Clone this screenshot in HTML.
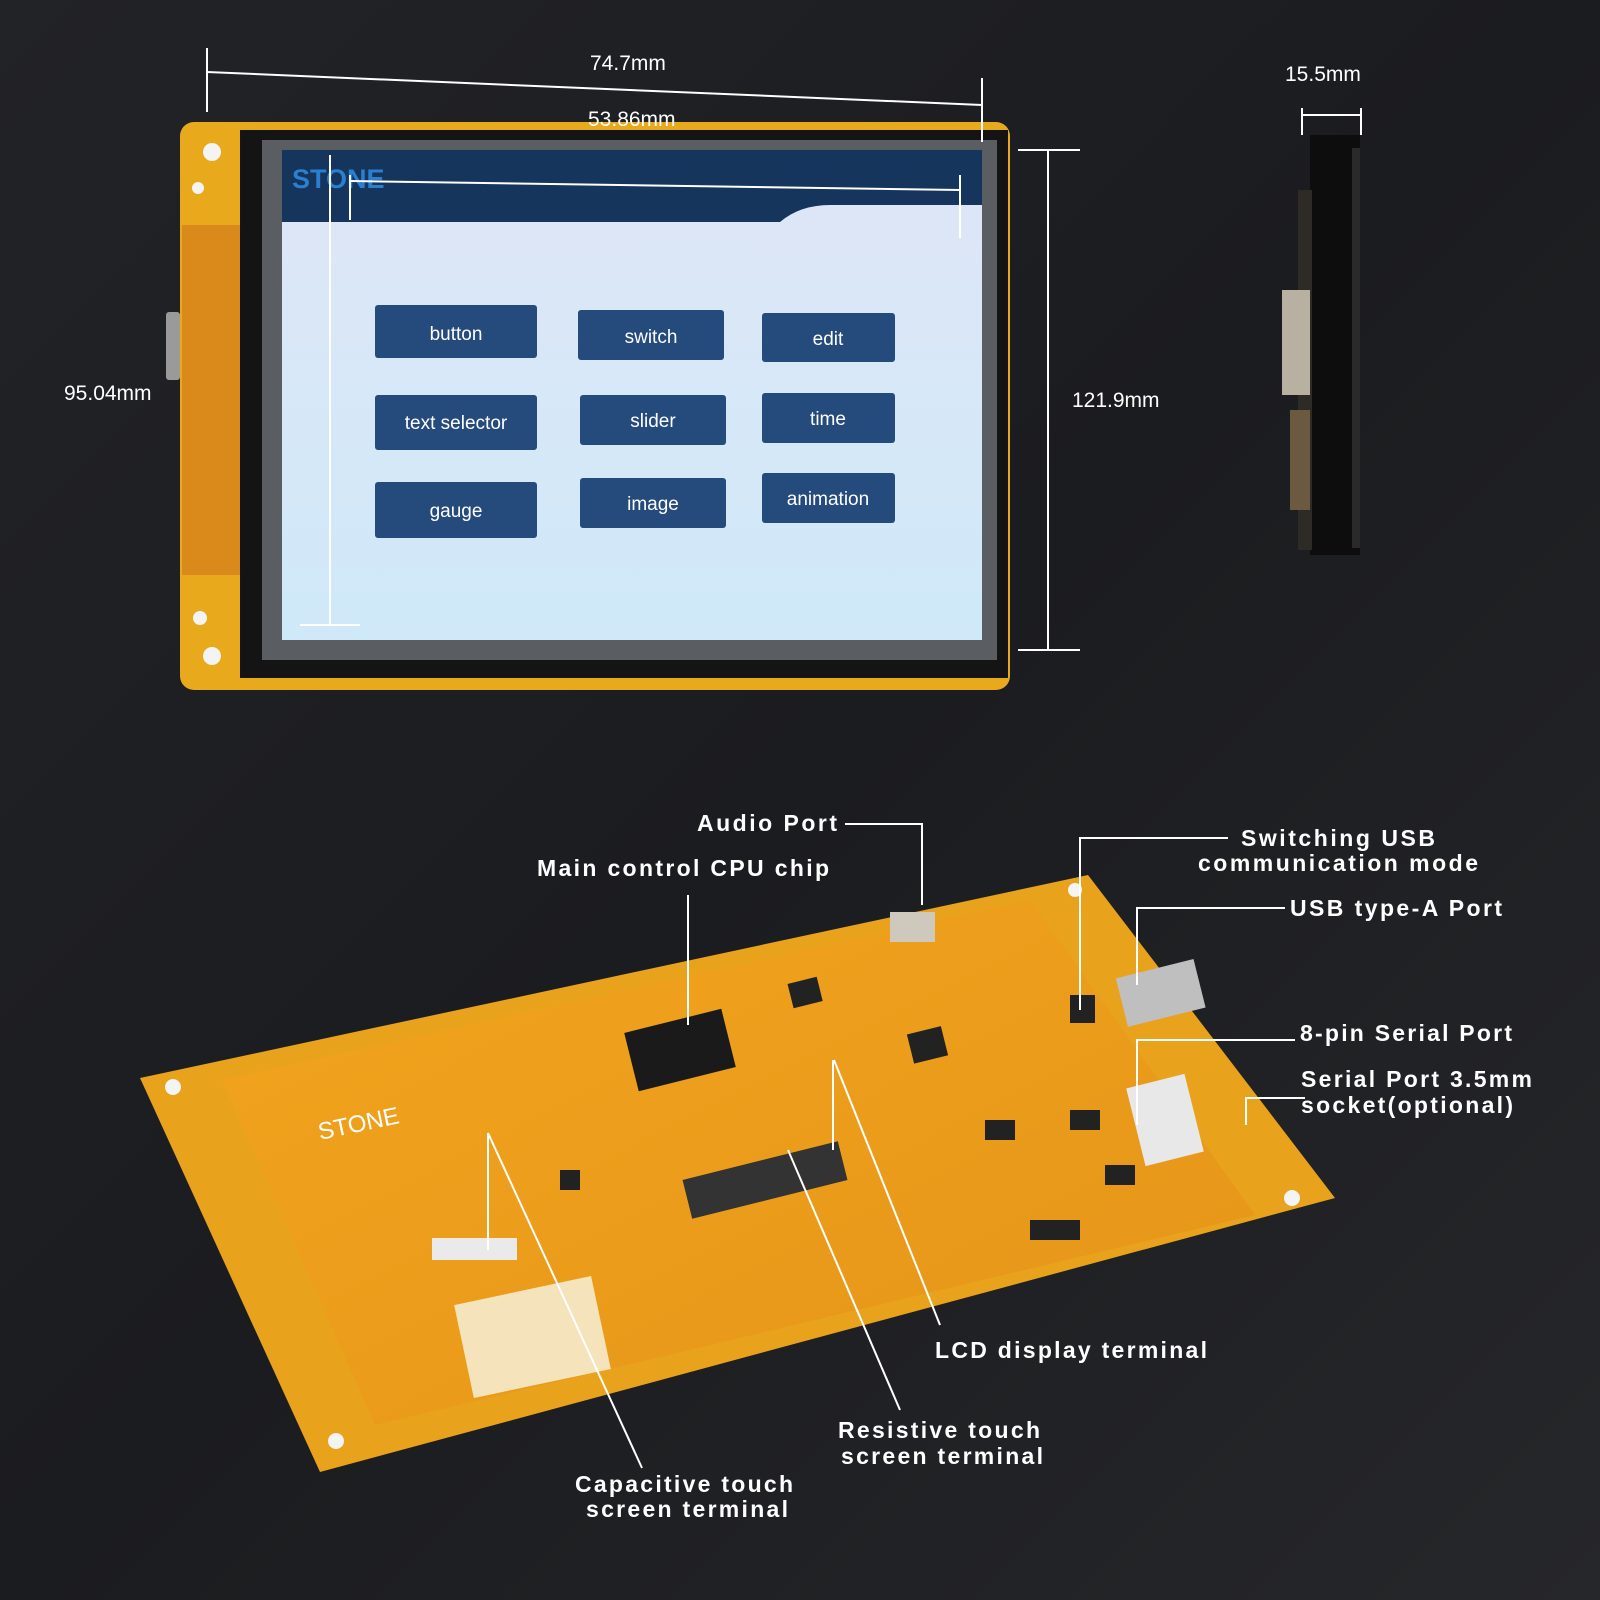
<!DOCTYPE html>
<html><head><meta charset="utf-8"><style>
html,body{margin:0;padding:0;width:1600px;height:1600px;overflow:hidden;background:#1d1e21}
svg{display:block}
text{font-family:"Liberation Sans",sans-serif}
.d{fill:#fff;font-size:21px}
.l{fill:#fff;font-size:23px;font-weight:bold}
.b{fill:#fff;font-size:19px}
</style></head><body>
<svg width="1600" height="1600" viewBox="0 0 1600 1600" xmlns="http://www.w3.org/2000/svg">
<defs>
<linearGradient id="bg" x1="0" y1="0" x2="1" y2="1"><stop offset="0" stop-color="#222327"/><stop offset="0.5" stop-color="#1b1c1f"/><stop offset="1" stop-color="#26272a"/></linearGradient>
<linearGradient id="scr" x1="0" y1="0" x2="0" y2="1"><stop offset="0" stop-color="#dfe6f6"/><stop offset="1" stop-color="#cfe9f9"/></linearGradient>
<linearGradient id="pcb" x1="0" y1="0" x2="1" y2="1"><stop offset="0" stop-color="#f2a51e"/><stop offset="1" stop-color="#e59418"/></linearGradient>
</defs>
<rect width="1600" height="1600" fill="url(#bg)"/>
<rect x="180" y="122" width="830" height="568" rx="14" fill="#e9a91c"/>
<rect x="182" y="225" width="60" height="350" fill="#d98a1a"/>
<rect x="240" y="130" width="768" height="548" fill="#141414"/>
<rect x="262" y="140" width="735" height="520" fill="#5a5e62"/>
<rect x="282" y="150" width="700" height="490" fill="url(#scr)"/>
<path d="M282 150 H982 V205 H830 Q800 205 780 222 H282 Z" fill="#15355c"/>
<text x="292" y="188" fill="#2b7fd0" font-size="27" font-weight="bold">STONE</text>
<g fill="#254a7c">
<rect x="375" y="305" width="162" height="53" rx="3"/><rect x="578" y="310" width="146" height="50" rx="3"/><rect x="762" y="313" width="133" height="49" rx="3"/>
<rect x="375" y="395" width="162" height="55" rx="3"/><rect x="580" y="395" width="146" height="50" rx="3"/><rect x="762" y="393" width="133" height="50" rx="3"/>
<rect x="375" y="482" width="162" height="56" rx="3"/><rect x="580" y="478" width="146" height="50" rx="3"/><rect x="762" y="473" width="133" height="50" rx="3"/>
</g>
<g class="b" text-anchor="middle">
<text x="456" y="340">button</text><text x="651" y="343">switch</text><text x="828" y="345">edit</text>
<text x="456" y="429">text selector</text><text x="653" y="427">slider</text><text x="828" y="425">time</text>
<text x="456" y="517">gauge</text><text x="653" y="510">image</text><text x="828" y="505">animation</text>
</g>
<g fill="#f4f4f4"><circle cx="212" cy="152" r="9"/><circle cx="212" cy="656" r="9"/><circle cx="200" cy="618" r="7"/><circle cx="198" cy="188" r="6"/></g>
<rect x="166" y="312" width="14" height="68" rx="3" fill="#9a9a9a"/>
<g stroke="#fff" stroke-width="2" fill="none">
<line x1="207" y1="72" x2="982" y2="105"/><line x1="207" y1="48" x2="207" y2="112"/><line x1="982" y1="78" x2="982" y2="142"/>
<line x1="350" y1="181" x2="960" y2="190"/><line x1="350" y1="175" x2="350" y2="220"/><line x1="960" y1="175" x2="960" y2="238"/>
<line x1="330" y1="155" x2="330" y2="625"/><line x1="300" y1="625" x2="360" y2="625"/>
<line x1="1048" y1="150" x2="1048" y2="650"/><line x1="1018" y1="150" x2="1080" y2="150"/><line x1="1018" y1="650" x2="1080" y2="650"/>
<line x1="1302" y1="115" x2="1361" y2="115"/><line x1="1302" y1="108" x2="1302" y2="135"/><line x1="1361" y1="108" x2="1361" y2="135"/>
</g>
<g class="d"><text x="590" y="70">74.7mm</text><text x="588" y="126">53.86mm</text><text x="64" y="400">95.04mm</text><text x="1072" y="407">121.9mm</text><text x="1285" y="81">15.5mm</text></g>
<rect x="1310" y="135" width="50" height="420" fill="#0d0d0d"/>
<rect x="1352" y="148" width="8" height="400" fill="#2a2a2a"/>
<rect x="1298" y="190" width="14" height="360" fill="#2e2b26"/>
<rect x="1282" y="290" width="28" height="105" fill="#b8b0a0"/>
<rect x="1290" y="410" width="20" height="100" fill="#6b5a40"/>
<polygon points="140,1078 1088,875 1335,1198 320,1472" fill="#e8a21c"/>
<polygon points="222,1080 1030,900 1255,1215 375,1425" fill="url(#pcb)"/>
<rect x="462" y="1290" width="140" height="95" fill="#f5e3bb" transform="rotate(-12 530 1335)"/>
<rect x="630" y="1020" width="100" height="60" fill="#1a1a1a" transform="rotate(-14 680 1050)"/>
<rect x="685" y="1160" width="160" height="40" fill="#333" transform="rotate(-14 765 1180)"/>
<rect x="1120" y="968" width="80" height="50" fill="#bfbfbf" transform="rotate(-14 1160 990)"/>
<rect x="1135" y="1080" width="60" height="80" fill="#e8e8e8" transform="rotate(-14 1165 1120)"/>
<g fill="#222">
<rect x="790" y="980" width="30" height="25" transform="rotate(-14 805 992)"/>
<rect x="910" y="1030" width="35" height="30" transform="rotate(-14 927 1045)"/>
<rect x="1070" y="1110" width="30" height="20"/><rect x="1105" y="1165" width="30" height="20"/>
<rect x="985" y="1120" width="30" height="20"/><rect x="1030" y="1220" width="50" height="20"/>
<rect x="1070" y="995" width="25" height="28"/><rect x="560" y="1170" width="20" height="20"/>
</g>
<rect x="890" y="912" width="45" height="30" fill="#cfc8bc"/>
<rect x="432" y="1238" width="85" height="22" fill="#eaeaea"/>
<text x="320" y="1140" fill="#fff" font-size="24" transform="rotate(-12 320 1140)">STONE</text>
<g fill="#f4f4f4"><circle cx="173" cy="1087" r="8"/><circle cx="1292" cy="1198" r="8"/><circle cx="336" cy="1441" r="8"/><circle cx="1075" cy="890" r="7"/></g>
<g stroke="#fff" stroke-width="2" fill="none">
<polyline points="845,824 922,824 922,905"/>
<line x1="688" y1="895" x2="688" y2="1025"/>
<polyline points="1228,838 1080,838 1080,1010"/>
<polyline points="1285,908 1137,908 1137,985"/>
<polyline points="1295,1040 1160,1040 1137,1040 1137,1125"/>
<polyline points="1305,1098 1246,1098 1246,1125"/>
<line x1="834" y1="1060" x2="940" y2="1325"/>
<line x1="833" y1="1060" x2="833" y2="1150"/>
<line x1="788" y1="1150" x2="900" y2="1410"/>
<line x1="488" y1="1133" x2="642" y2="1468"/>
<line x1="488" y1="1133" x2="488" y2="1250"/>
</g>
<g class="l">
<text x="697" y="831" textLength="140">Audio Port</text>
<text x="537" y="876" textLength="292">Main control CPU chip</text>
<text x="1241" y="846" textLength="194">Switching USB</text>
<text x="1198" y="871" textLength="280">communication mode</text>
<text x="1290" y="916" textLength="212">USB type-A Port</text>
<text x="1300" y="1041" textLength="212">8-pin Serial Port</text>
<text x="1301" y="1087" textLength="231">Serial Port 3.5mm</text>
<text x="1301" y="1113" textLength="212">socket(optional)</text>
<text x="935" y="1358" textLength="272">LCD display terminal</text>
<text x="838" y="1438" textLength="202">Resistive touch</text>
<text x="841" y="1464" textLength="202">screen terminal</text>
<text x="575" y="1492" textLength="218">Capacitive touch</text>
<text x="586" y="1517" textLength="202">screen terminal</text>
</g>
</svg>
</body></html>
